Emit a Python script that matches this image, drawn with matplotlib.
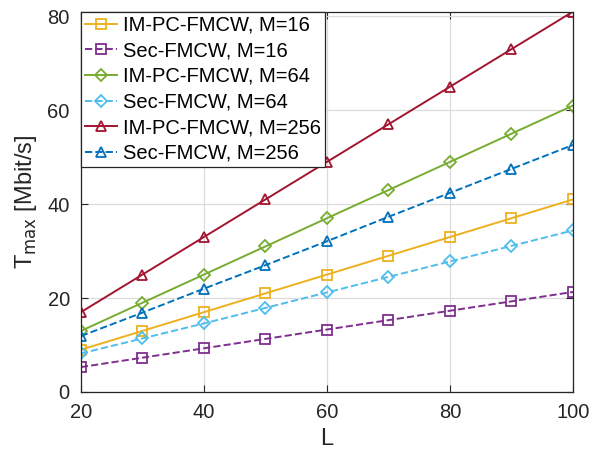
import matplotlib.pyplot as plt
import numpy as np

plt.rcParams['font.family'] = ['Liberation Sans', 'DejaVu Sans']

L = [20, 30, 40, 50, 60, 70, 80, 90, 100]
im_16 = [9, 13, 17, 21, 25, 29, 33, 37, 41]
sec_16 = [5.3, 7.3, 9.3, 11.3, 13.3, 15.3, 17.3, 19.3, 21.3]
im_64 = [13, 19, 25, 31, 37, 43, 49, 55, 61]
sec_64 = [8.2, 11.4, 14.6, 17.9, 21.2, 24.5, 27.8, 31.1, 34.4]
im_256 = [17, 25, 33, 41, 49, 57, 65, 73, 81]
sec_256 = [11.9, 16.9, 22.0, 27.0, 32.1, 37.3, 42.4, 47.5, 52.6]

fig = plt.figure(figsize=(5.95, 4.55), dpi=100)
ax = fig.add_axes([0.136, 0.1385, 0.827, 0.836])

kw = dict(lw=1.4, fillstyle='none', mew=1.3)
ax.plot(L, im_16, '-s', color='#EDB120', label='IM-PC-FMCW, M=16', ms=6.5, **kw)
ax.plot(L, sec_16, '--s', color='#7E2F8E', label='Sec-FMCW, M=16', ms=6.5, **kw)
ax.plot(L, im_64, '-D', color='#77AC30', label='IM-PC-FMCW, M=64', ms=6, **kw)
ax.plot(L, sec_64, '--D', color='#4DBEEE', label='Sec-FMCW, M=64', ms=6, **kw)
ax.plot(L, im_256, '-^', color='#A2142F', label='IM-PC-FMCW, M=256', ms=7.5, **kw)
ax.plot(L, sec_256, '--^', color='#0072BD', label='Sec-FMCW, M=256', ms=7.5, **kw)

ax.set_xlim(20, 100)
ax.set_ylim(0, 81)
ax.set_xticks([20, 40, 60, 80, 100])
ax.set_yticks([0, 20, 40, 60, 80])
ax.grid(True, color='#dcdcdc', lw=0.9)
ax.set_axisbelow(True)
ax.tick_params(direction='in', labelsize=14.5, colors='#262626', length=5,
               top=True, right=True, pad=8)
for s in ax.spines.values():
    s.set_color('#262626')
    s.set_linewidth(0.9)

ax.set_xlabel('L', fontsize=17, color='#262626', labelpad=4)
ax.set_ylabel('T$_{\\rm max}$ [Mbit/s]', fontsize=17, color='#262626', labelpad=6)

leg = ax.legend(loc='upper left', fontsize=14.5, handlelength=1.6, handletextpad=0.3,
                borderaxespad=0, borderpad=0.2, labelspacing=0.33, fancybox=False,
                framealpha=1, edgecolor='#262626')
leg.get_frame().set_linewidth(0.9)

fig.savefig('out.png', dpi=100)
